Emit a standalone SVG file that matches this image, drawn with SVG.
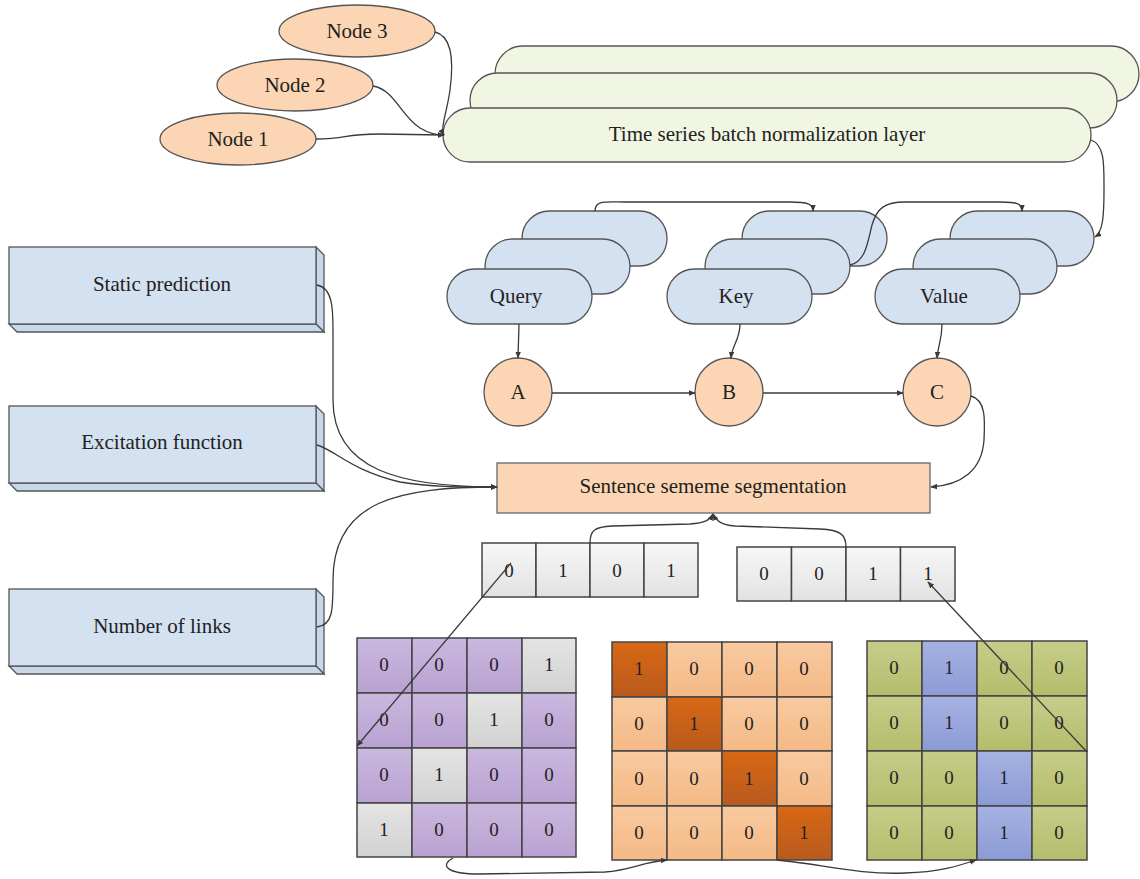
<svg xmlns="http://www.w3.org/2000/svg" width="1140" height="879" viewBox="0 0 1140 879">
  <style>
    .lbl { font-family: "Liberation Serif", "DejaVu Serif", serif; font-size: 21px; fill: #222; text-anchor: middle; dominant-baseline: central; }
    .num { font-family: "Liberation Serif", "DejaVu Serif", serif; font-size: 19px; fill: #222; text-anchor: middle; dominant-baseline: central; }
    .ell { fill: #fcd6b4; stroke: #555; stroke-width: 1.3; }
    .norm { fill: #f1f6e3; stroke: #555; stroke-width: 1.3; }
    .qkv { fill: #d4e1f0; stroke: #555; stroke-width: 1.3; }
    .slab { fill: #d4e1f0; stroke: #555; stroke-width: 1.3; }
    .slabside { fill: #c8d7e9; stroke: #555; stroke-width: 1.3; }
    .seg { fill: #fcd6b4; stroke: #666; stroke-width: 1.3; }
    .cell { stroke: #444; stroke-width: 1.5; }
    .vec { fill: url(#gVec); }
    .pur { fill: url(#gPur); }
    .gry { fill: url(#gGry); }
    .org { fill: url(#gOrg); }
    .dor { fill: url(#gDor); }
    .grn { fill: url(#gGrn); }
    .blu { fill: url(#gBlu); }
    .edge { fill: none; stroke: #3a3a3a; stroke-width: 1.3; marker-end: url(#arr); }
  </style>
  <defs>
    <marker id="arr" viewBox="0 0 10 10" refX="9" refY="5" markerWidth="7" markerHeight="7" orient="auto" markerUnits="userSpaceOnUse">
      <path d="M0,1 L10,5 L0,9 Z" fill="#3a3a3a"/>
    </marker>
    <linearGradient id="gVec" x1="0" y1="0" x2="0" y2="1"><stop offset="0" stop-color="#f7f7f7"/><stop offset="1" stop-color="#e2e2e2"/></linearGradient>
    <linearGradient id="gPur" x1="0" y1="0" x2="0" y2="1"><stop offset="0" stop-color="#cab8de"/><stop offset="1" stop-color="#b9a2d2"/></linearGradient>
    <linearGradient id="gGry" x1="0" y1="0" x2="0" y2="1"><stop offset="0" stop-color="#e4e4e4"/><stop offset="1" stop-color="#d2d2d2"/></linearGradient>
    <linearGradient id="gOrg" x1="0" y1="0" x2="0" y2="1"><stop offset="0" stop-color="#f8caa0"/><stop offset="1" stop-color="#f4b986"/></linearGradient>
    <linearGradient id="gDor" x1="0" y1="0" x2="0" y2="1"><stop offset="0" stop-color="#d86814"/><stop offset="1" stop-color="#b85a1e"/></linearGradient>
    <linearGradient id="gGrn" x1="0" y1="0" x2="0" y2="1"><stop offset="0" stop-color="#c6cd8a"/><stop offset="1" stop-color="#b4bd6c"/></linearGradient>
    <linearGradient id="gBlu" x1="0" y1="0" x2="0" y2="1"><stop offset="0" stop-color="#a6b2e2"/><stop offset="1" stop-color="#8c9bd6"/></linearGradient>
  </defs>

  <!-- input nodes -->
  <g id="node3"><ellipse class="ell" cx="357" cy="31" rx="78" ry="26"/><text class="lbl" x="357" y="31">Node 3</text></g>
  <g id="node2"><ellipse class="ell" cx="295" cy="85" rx="78" ry="26"/><text class="lbl" x="295" y="85">Node 2</text></g>
  <g id="node1"><ellipse class="ell" cx="238" cy="139" rx="78" ry="26"/><text class="lbl" x="238" y="139">Node 1</text></g>

  <!-- stacked normalization layer -->
  <g id="norm-layer">
    <rect class="norm" x="495" y="46" width="644" height="56" rx="28"/>
    <rect class="norm" x="470" y="73" width="647" height="55" rx="27.5"/>
    <rect class="norm" x="443" y="108" width="648" height="54" rx="27"/>
    <text class="lbl" x="767" y="134">Time series batch normalization layer</text>
  </g>

  <!-- query / key / value stacks -->
  <g id="query">
    <rect class="qkv" x="522" y="211" width="145" height="55" rx="27.5"/>
    <rect class="qkv" x="485" y="239" width="145" height="55" rx="27.5"/>
    <rect class="qkv" x="447" y="269" width="145" height="55" rx="27.5"/>
    <text class="lbl" x="516" y="296">Query</text>
  </g>
  <g id="key">
    <rect class="qkv" x="742" y="211" width="145" height="55" rx="27.5"/>
    <rect class="qkv" x="705" y="239" width="145" height="55" rx="27.5"/>
    <rect class="qkv" x="667" y="269" width="145" height="55" rx="27.5"/>
    <text class="lbl" x="736" y="296">Key</text>
  </g>
  <g id="value">
    <rect class="qkv" x="950" y="211" width="144" height="55" rx="27.5"/>
    <rect class="qkv" x="913" y="239" width="144" height="55" rx="27.5"/>
    <rect class="qkv" x="875" y="269" width="145" height="55" rx="27.5"/>
    <text class="lbl" x="944" y="296">Value</text>
  </g>

  <!-- attention nodes -->
  <g id="nodeA"><ellipse class="ell" cx="518" cy="392" rx="34" ry="34"/><text class="lbl" x="518" y="392">A</text></g>
  <g id="nodeB"><ellipse class="ell" cx="729" cy="392" rx="34" ry="34"/><text class="lbl" x="729" y="392">B</text></g>
  <g id="nodeC"><ellipse class="ell" cx="937" cy="392" rx="34" ry="34"/><text class="lbl" x="937" y="392">C</text></g>

  <!-- left slabs -->
  <g id="static-prediction">
    <polygon class="slabside" points="316,247 324,255 324,332 316,324"/>
    <polygon class="slabside" points="9,324 316,324 324,332 17,332"/>
    <rect class="slab" x="9" y="247" width="307" height="77"/>
    <text class="lbl" x="162" y="284">Static prediction</text>
  </g>
  <g id="excitation-function">
    <polygon class="slabside" points="316,406 324,414 324,491 316,483"/>
    <polygon class="slabside" points="9,483 316,483 324,491 17,491"/>
    <rect class="slab" x="9" y="406" width="307" height="77"/>
    <text class="lbl" x="162" y="442">Excitation function</text>
  </g>
  <g id="number-of-links">
    <polygon class="slabside" points="316,589 324,597 324,674 316,666"/>
    <polygon class="slabside" points="9,666 316,666 324,674 17,674"/>
    <rect class="slab" x="9" y="589" width="307" height="77"/>
    <text class="lbl" x="162" y="626">Number of links</text>
  </g>

  <!-- segmentation block -->
  <g id="segmentation">
    <rect class="seg" x="497" y="463" width="433" height="50"/>
    <text class="lbl" x="713" y="486">Sentence sememe segmentation</text>
  </g>

  <!-- vectors -->
  <g id="vector1">
    <rect class="cell vec" x="482" y="543" width="54" height="54"/>
    <rect class="cell vec" x="536" y="543" width="54" height="54"/>
    <rect class="cell vec" x="590" y="543" width="54" height="54"/>
    <rect class="cell vec" x="644" y="543" width="54" height="54"/>
    <text class="num" x="509" y="570">0</text><text class="num" x="563" y="570">1</text>
    <text class="num" x="617" y="570">0</text><text class="num" x="671" y="570">1</text>
  </g>
  <g id="vector2">
    <rect class="cell vec" x="737" y="547" width="54.5" height="54"/>
    <rect class="cell vec" x="791.5" y="547" width="54.5" height="54"/>
    <rect class="cell vec" x="846" y="547" width="54.5" height="54"/>
    <rect class="cell vec" x="900.5" y="547" width="54.5" height="54"/>
    <text class="num" x="764" y="573">0</text><text class="num" x="819" y="573">0</text>
    <text class="num" x="873" y="573">1</text><text class="num" x="928" y="573">1</text>
  </g>

  <!-- matrices -->
  <g id="matrix-purple">
    <rect class="cell pur" x="357" y="638" width="55" height="55"/><rect class="cell pur" x="412" y="638" width="55" height="55"/><rect class="cell pur" x="467" y="638" width="55" height="55"/><rect class="cell gry" x="522" y="638" width="54" height="55"/>
    <rect class="cell pur" x="357" y="693" width="55" height="55"/><rect class="cell pur" x="412" y="693" width="55" height="55"/><rect class="cell gry" x="467" y="693" width="55" height="55"/><rect class="cell pur" x="522" y="693" width="54" height="55"/>
    <rect class="cell pur" x="357" y="748" width="55" height="55"/><rect class="cell gry" x="412" y="748" width="55" height="55"/><rect class="cell pur" x="467" y="748" width="55" height="55"/><rect class="cell pur" x="522" y="748" width="54" height="55"/>
    <rect class="cell gry" x="357" y="803" width="55" height="54"/><rect class="cell pur" x="412" y="803" width="55" height="54"/><rect class="cell pur" x="467" y="803" width="55" height="54"/><rect class="cell pur" x="522" y="803" width="54" height="54"/>
    <text class="num" x="384" y="664">0</text><text class="num" x="439" y="664">0</text><text class="num" x="494" y="664">0</text><text class="num" x="549" y="664">1</text>
    <text class="num" x="384" y="719">0</text><text class="num" x="439" y="719">0</text><text class="num" x="494" y="719">1</text><text class="num" x="549" y="719">0</text>
    <text class="num" x="384" y="774">0</text><text class="num" x="439" y="774">1</text><text class="num" x="494" y="774">0</text><text class="num" x="549" y="774">0</text>
    <text class="num" x="384" y="829">1</text><text class="num" x="439" y="829">0</text><text class="num" x="494" y="829">0</text><text class="num" x="549" y="829">0</text>
  </g>
  <g id="matrix-orange">
    <rect class="cell dor" x="612" y="642" width="55" height="55"/><rect class="cell org" x="667" y="642" width="55" height="55"/><rect class="cell org" x="722" y="642" width="55" height="55"/><rect class="cell org" x="777" y="642" width="55" height="55"/>
    <rect class="cell org" x="612" y="697" width="55" height="54"/><rect class="cell dor" x="667" y="697" width="55" height="54"/><rect class="cell org" x="722" y="697" width="55" height="54"/><rect class="cell org" x="777" y="697" width="55" height="54"/>
    <rect class="cell org" x="612" y="751" width="55" height="55"/><rect class="cell org" x="667" y="751" width="55" height="55"/><rect class="cell dor" x="722" y="751" width="55" height="55"/><rect class="cell org" x="777" y="751" width="55" height="55"/>
    <rect class="cell org" x="612" y="806" width="55" height="54"/><rect class="cell org" x="667" y="806" width="55" height="54"/><rect class="cell org" x="722" y="806" width="55" height="54"/><rect class="cell dor" x="777" y="806" width="55" height="54"/>
    <text class="num" x="639" y="668">1</text><text class="num" x="694" y="668">0</text><text class="num" x="749" y="668">0</text><text class="num" x="804" y="668">0</text>
    <text class="num" x="639" y="723">0</text><text class="num" x="694" y="723">1</text><text class="num" x="749" y="723">0</text><text class="num" x="804" y="723">0</text>
    <text class="num" x="639" y="778">0</text><text class="num" x="694" y="778">0</text><text class="num" x="749" y="778">1</text><text class="num" x="804" y="778">0</text>
    <text class="num" x="639" y="832">0</text><text class="num" x="694" y="832">0</text><text class="num" x="749" y="832">0</text><text class="num" x="804" y="832">1</text>
  </g>
  <g id="matrix-green">
    <rect class="cell grn" x="867" y="641" width="55" height="55"/><rect class="cell blu" x="922" y="641" width="55" height="55"/><rect class="cell grn" x="977" y="641" width="55" height="55"/><rect class="cell grn" x="1032" y="641" width="55" height="55"/>
    <rect class="cell grn" x="867" y="696" width="55" height="55"/><rect class="cell blu" x="922" y="696" width="55" height="55"/><rect class="cell grn" x="977" y="696" width="55" height="55"/><rect class="cell grn" x="1032" y="696" width="55" height="55"/>
    <rect class="cell grn" x="867" y="751" width="55" height="55"/><rect class="cell grn" x="922" y="751" width="55" height="55"/><rect class="cell blu" x="977" y="751" width="55" height="55"/><rect class="cell grn" x="1032" y="751" width="55" height="55"/>
    <rect class="cell grn" x="867" y="806" width="55" height="54"/><rect class="cell grn" x="922" y="806" width="55" height="54"/><rect class="cell blu" x="977" y="806" width="55" height="54"/><rect class="cell grn" x="1032" y="806" width="55" height="54"/>
    <text class="num" x="894" y="667">0</text><text class="num" x="949" y="667">1</text><text class="num" x="1004" y="667">0</text><text class="num" x="1059" y="667">0</text>
    <text class="num" x="894" y="722">0</text><text class="num" x="949" y="722">1</text><text class="num" x="1004" y="722">0</text><text class="num" x="1059" y="722">0</text>
    <text class="num" x="894" y="777">0</text><text class="num" x="949" y="777">0</text><text class="num" x="1004" y="777">1</text><text class="num" x="1059" y="777">0</text>
    <text class="num" x="894" y="832">0</text><text class="num" x="949" y="832">0</text><text class="num" x="1004" y="832">1</text><text class="num" x="1059" y="832">0</text>
  </g>

  <!-- connectors -->
  <g id="connectors">
    <path class="edge" d="M435,32 C452,36 454,60 450,90 C447,112 440,128 444,135"/>
    <path class="edge" d="M373,86 C395,90 400,115 420,128 C430,134 438,135 444,135"/>
    <path class="edge" d="M316,139 C350,139 340,134 380,134 L444,135"/>
    <path class="edge" d="M1091,140 C1105,145 1104,165 1104,190 C1104,215 1103,232 1095,237"/>
    <path class="edge" d="M595,211 C595,200 605,202 625,202 L790,202 C808,202 813,204 813,211"/>
    <path class="edge" d="M850,265 C866,262 868,240 872,225 C877,208 885,202 905,202 L1000,202 C1018,202 1022,204 1022,211"/>
    <path class="edge" d="M519,324 L518,358"/>
    <path class="edge" d="M740,324 C740,340 732,345 731,358"/>
    <path class="edge" d="M942,324 C942,340 938,345 937,358"/>
    <path class="edge" d="M552,393 L695,393"/>
    <path class="edge" d="M763,393 L903,393"/>
    <path class="edge" d="M971,396 C986,400 985,420 984,440 C982,470 962,485 931,487"/>
    <path class="edge" d="M317,285 C333,288 333,310 333,330 L333,400 C333,470 400,487 497,487"/>
    <path class="edge" d="M317,445 C335,450 350,470 400,482 C430,487 460,487 497,487"/>
    <path class="edge" d="M317,627 C333,625 333,610 333,580 C333,500 400,487 497,487"/>
    <path class="edge" d="M590,543 C590,530 595,527 612,526 L690,524 C705,523 710,520 713,514"/>
    <path class="edge" d="M846,547 C846,535 841,530 820,529 L735,526 C720,525 716,520 713,514"/>
    <path class="edge" d="M511,563 L357,746"/>
    <path class="edge" d="M1087,752 L928,582"/>
    <path class="edge" d="M453,858 C440,865 445,874 480,874 L605,872 C632,870 642,862 667,860"/>
    <path class="edge" d="M777,860 C820,864 860,875 905,873 C940,872 958,866 976,860"/>
  </g>
</svg>
